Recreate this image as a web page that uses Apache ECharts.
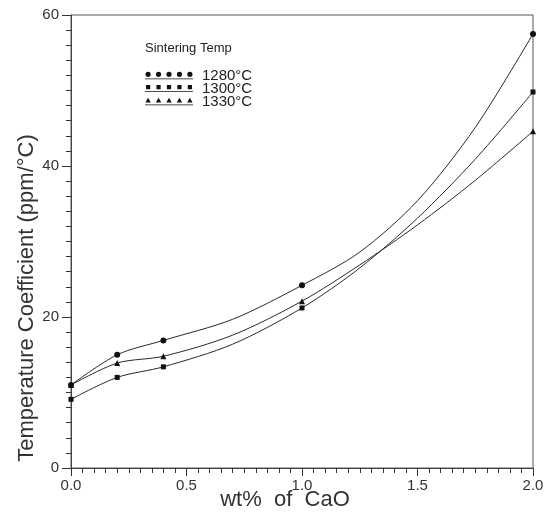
<!DOCTYPE html>
<html>
<head>
<meta charset="utf-8">
<script src="https://cdn.jsdelivr.net/npm/echarts@6/dist/echarts.min.js"></script>
<style>html,body{margin:0;padding:0;background:#fff}#c{width:556px;height:522px}</style>
</head>
<body>
<div id="c"></div>
<script>
// Data
const seriesNames = ['1280°C', '1300°C', '1330°C'];
// points along each curve; m = 1 where the figure shows a marker
const x1280 = [0, 0.2, 0.4, 0.7, 1.0, 1.25, 1.5, 1.75, 2.0];
const y1280 = [11.0, 15.0, 16.9, 19.7, 24.2, 28.6, 35.4, 45.1, 57.5];
const m1280 = [1, 1, 1, 0, 1, 0, 0, 0, 1];
const x1300 = [0, 0.2, 0.4, 0.7, 1.0, 1.25, 1.5, 1.75, 2.0];
const y1300 = [9.1, 12.0, 13.4, 16.4, 21.2, 26.5, 33.1, 40.9, 49.8];
const m1300 = [1, 1, 1, 0, 1, 0, 0, 0, 1];
const x1330 = [0, 0.2, 0.4, 0.7, 1.0, 1.25, 1.5, 1.75, 2.0];
const y1330 = [11.0, 13.9, 14.8, 17.6, 22.1, 26.9, 32.2, 38.1, 44.6];
const m1330 = [1, 1, 1, 0, 1, 0, 0, 0, 1];
const xTicks = [0, 0.5, 1.0, 1.5, 2.0];
const yTicks = [0, 20, 40, 60];

function build(xs, ys, ms) {
  return xs.map((x, i) => ({ value: [x, ys[i]], symbolSize: ms[i] ? undefined : 0 }));
}
function rowPath(kind) {
  let p = '';
  [3, 13, 23, 33, 43].forEach(cx => {
    if (kind === 'circle') p += `M${cx - 2.5},3 a2.5,2.5 0 1,0 5,0 a2.5,2.5 0 1,0 -5,0 Z `;
    else if (kind === 'rect') p += `M${cx - 2},1 h4 v4 h-4 Z `;
    else p += `M${cx},0.5 L${cx + 2.6},5 L${cx - 2.6},5 Z `;
  });
  p += 'M0,7 L46,7 L46,7.8 L0,7.8 Z';
  return 'path://' + p;
}

const font = 'Liberation Sans, Arial, sans-serif';
const lineColor = '#2a2a2a';
const chart = echarts.init(document.getElementById('c'), null, { renderer: 'canvas' });
const symbols = ['circle', 'rect', 'triangle'];
const sizes = [6, 5, 6];
const datas = [build(x1280, y1280, m1280), build(x1300, y1300, m1300), build(x1330, y1330, m1330)];

chart.setOption({
  animation: false,
  backgroundColor: '#fff',
  title: {
    text: 'Sintering Temp', left: 140, top: 37,
    textStyle: { fontFamily: font, fontSize: 13, fontWeight: 'normal', color: '#222' }
  },
  legend: {
    orient: 'vertical', left: 140, top: 63, itemWidth: 48, itemHeight: 8, itemGap: -2,
    data: seriesNames.map((n, i) => ({ name: n, icon: rowPath(symbols[i]) })),
    textStyle: { fontFamily: font, fontSize: 15, color: '#222', padding: [0, 0, 0, 4] },
    itemStyle: { color: '#111' }, lineStyle: { width: 0 }
  },
  grid: { left: 71, right: 23, top: 15, bottom: 54, show: true, borderColor: '#555', borderWidth: 1 },
  xAxis: {
    type: 'value', min: 0, max: 2, interval: 0.5,
    axisLine: { lineStyle: { color: '#444' } },
    axisTick: { show: true, inside: false, length: 8, lineStyle: { color: '#333' } },
    minorTick: { show: true, splitNumber: 10, length: 5, lineStyle: { color: '#333' } },
    axisLabel: { fontFamily: font, fontSize: 15, color: '#333', margin: 10,
      formatter: v => xTicks.includes(v) ? v.toFixed(1) : '' },
    splitLine: { show: false }
  },
  yAxis: {
    type: 'value', min: 0, max: 60, interval: 20,
    axisLine: { show: true, lineStyle: { color: '#444' } },
    axisTick: { show: true, inside: false, length: 9, lineStyle: { color: '#333' } },
    minorTick: { show: true, splitNumber: 10, length: 5, lineStyle: { color: '#333' } },
    axisLabel: { fontFamily: font, fontSize: 15, color: '#333', margin: 12,
      formatter: v => yTicks.includes(v) ? String(v) : '' },
    splitLine: { show: false }
  },
  graphic: [{
    type: 'text', x: 27, y: 298, rotation: Math.PI / 2,
    style: { text: 'Temperature Coefficient (ppm/°C)', fontFamily: font, fontSize: 22,
      fill: '#333', textAlign: 'center', textVerticalAlign: 'middle' }
  }, {
    type: 'text', x: 285, y: 500,
    style: { text: 'wt%  of  CaO', fontFamily: font, fontSize: 22,
      fill: '#333', textAlign: 'center', textVerticalAlign: 'middle' }
  }],
  series: seriesNames.map((n, i) => ({
    name: n, type: 'line', smooth: 0.3, data: datas[i],
    symbol: symbols[i], symbolSize: sizes[i], showAllSymbol: true,
    itemStyle: { color: '#111' },
    lineStyle: { color: lineColor, width: 1 }
  }))
});
</script>
</body>
</html>
